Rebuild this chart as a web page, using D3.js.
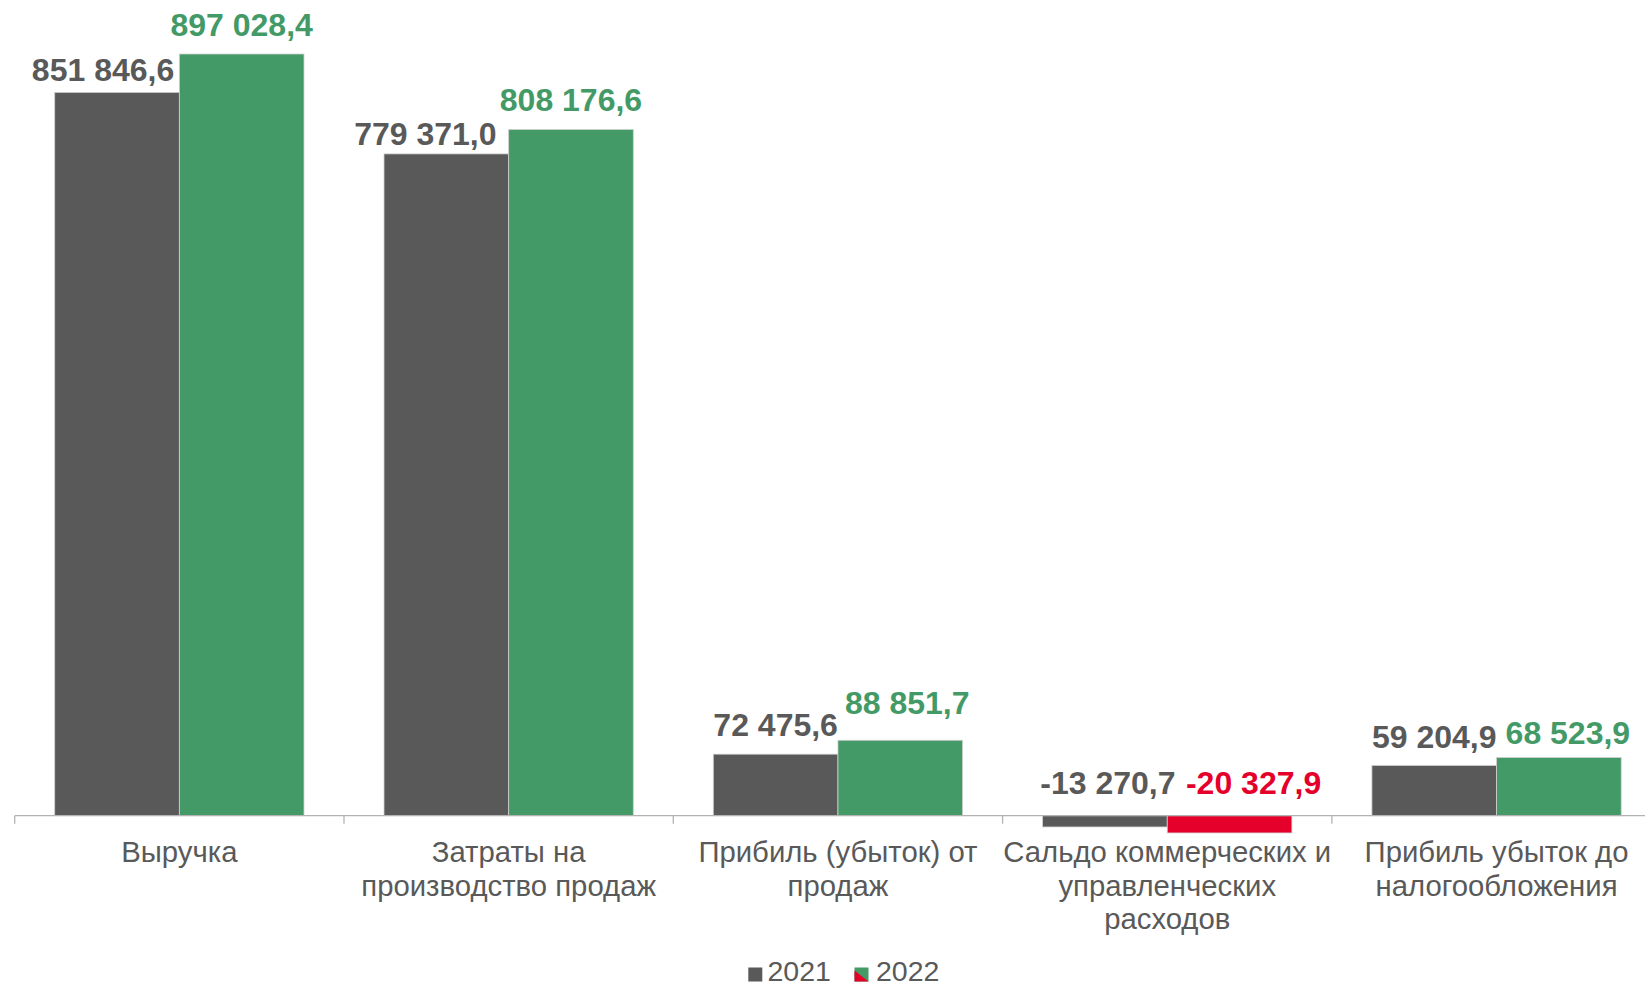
<!DOCTYPE html>
<html>
<head>
<meta charset="utf-8">
<script src="https://cdn.jsdelivr.net/npm/d3@7"></script>
<style>
  html, body { margin: 0; padding: 0; background: #fff; overflow: hidden; }
  svg { display: block; font-family: "Liberation Sans", Arial, sans-serif; }
</style>
</head>
<body>
<svg id="chart" width="1645" height="987"></svg>
<script>
// ---- data ----
const categories = [
  "Выручка",
  "Затраты на|производство продаж",
  "Прибиль (убыток) от|продаж",
  "Сальдо коммерческих и|управленческих|расходов",
  "Прибиль убыток до|налогообложения"
];
const seriesNames = ["2021", "2022"];
const values2021 = [851846.6, 779371.0, 72475.6, -13270.7, 59204.9];
const values2022 = [897028.4, 808176.6, 88851.7, -20327.9, 68523.9];

// ---- styles / layout ----
const W = 1645, H = 987;
const C_GRAY = "#595959", C_GREEN = "#449A66", C_RED = "#E4002B";
const TEXT = "#595959";
const axisY = 815.7;
const plotLeft = 14.7, catStep = 329.3;
// small manual nudges of individual value labels: [category][series] -> [dx, dy]
const labelNudge = [
  [[-14, 7], [0, 0]],
  [[-21, 9], [0, 0]],
  [[0, 0], [7, -8]],
  [[3, 0], [24, 0]],
  [[0, 1], [9, 4]]
];

const svg = d3.select("#chart");

const x = d3.scaleBand()
  .domain(d3.range(categories.length))
  .range([plotLeft, plotLeft + catStep * categories.length])
  .paddingInner(0).paddingOuter(0);

const xs = d3.scaleBand()
  .domain(seriesNames)
  .range([0, x.bandwidth()])
  .paddingInner(0).paddingOuter(0.321);

const pxPerUnit = 761.7 / 897028.4;
const y = d3.scaleLinear()
  .domain([0, 1000000])
  .range([axisY, axisY - 1000000 * pxPerUnit]);

const ru = d3.formatLocale({decimal: ",", thousands: "\u00a0", grouping: [3], currency: ["", ""], minus: "-"});
const fmt = ru.format(",.1f");

const rows = categories.map((c, i) => ({i, c, vals: [values2021[i], values2022[i]]}));

// bars
const g = svg.append("g");
rows.forEach(r => {
  r.vals.forEach((v, k) => {
    const s = seriesNames[k];
    const fill = k === 0 ? C_GRAY : (v < 0 ? C_RED : C_GREEN);
    g.append("rect")
      .attr("x", x(r.i) + xs(s))
      .attr("y", Math.min(y(v), y(0)))
      .attr("width", xs.bandwidth())
      .attr("height", Math.abs(y(v) - y(0)))
      .attr("fill", fill)
      .attr("stroke", "#d0d0d0")
      .attr("stroke-width", 0.8);
  });
});

// axis
svg.append("line")
  .attr("x1", plotLeft).attr("x2", W)
  .attr("y1", axisY).attr("y2", axisY)
  .attr("stroke", "#b3b3b3").attr("stroke-width", 1.3);
d3.range(categories.length + 1).forEach(i => {
  const tx = plotLeft + catStep * i;
  svg.append("line")
    .attr("x1", tx).attr("x2", tx)
    .attr("y1", axisY).attr("y2", axisY + 8)
    .attr("stroke", "#b3b3b3").attr("stroke-width", 1.3);
});

// value labels
rows.forEach(r => {
  r.vals.forEach((v, k) => {
    const s = seriesNames[k];
    const color = k === 0 ? TEXT : (v < 0 ? C_RED : C_GREEN);
    const [dx, dy] = labelNudge[r.i][k];
    const cx = x(r.i) + xs(s) + xs.bandwidth() / 2 + dx;
    const by = (v >= 0 ? y(v) - 18 : y(0) - 21.5) + dy;
    svg.append("text")
      .attr("x", cx).attr("y", by)
      .attr("text-anchor", "middle")
      .attr("font-size", 32).attr("font-weight", "bold")
      .attr("fill", color)
      .text(fmt(v));
  });
});

// category labels
rows.forEach(r => {
  const lines = r.c.split("|");
  const t = svg.append("text")
    .attr("text-anchor", "middle")
    .attr("font-size", 29.3)
    .attr("fill", TEXT);
  lines.forEach((ln, j) => {
    t.append("tspan")
      .attr("x", x(r.i) + x.bandwidth() / 2)
      .attr("y", 862 + j * 33.6)
      .text(ln);
  });
});

// legend
const lg = svg.append("g");
lg.append("rect").attr("x", 748.3).attr("y", 967.5).attr("width", 14).attr("height", 14).attr("fill", C_GRAY);
lg.append("text").attr("x", 767.5).attr("y", 980.6).attr("font-size", 28.5).attr("fill", TEXT).text(seriesNames[0]);
lg.append("rect").attr("x", 854.5).attr("y", 967.5).attr("width", 14).attr("height", 14).attr("fill", C_GREEN);
lg.append("path").attr("d", "M854.5,970.5 L854.5,981.5 L868.5,981.5 Z").attr("fill", C_RED);
lg.append("text").attr("x", 876).attr("y", 980.6).attr("font-size", 28.5).attr("fill", TEXT).text(seriesNames[1]);
</script>
</body>
</html>
